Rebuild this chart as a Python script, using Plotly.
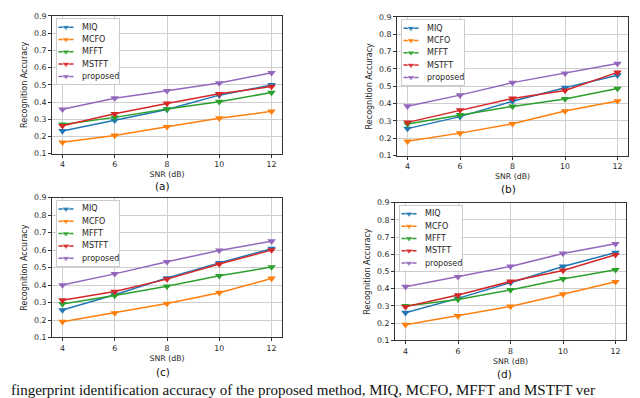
import plotly.graph_objects as go

W, H = 640, 398

snr = [4, 6, 8, 10, 12]
methods = ["MIQ", "MCFO", "MFFT", "MSTFT", "proposed"]
yticks = [0.1, 0.2, 0.3, 0.4, 0.5, 0.6, 0.7, 0.8, 0.9]

# accuracy, one list per method
a_miq = [0.232, 0.294, 0.357, 0.440, 0.499]
a_mcfo = [0.166, 0.206, 0.256, 0.306, 0.346]
a_mfft = [0.270, 0.311, 0.359, 0.402, 0.455]
a_mstft = [0.262, 0.332, 0.392, 0.448, 0.490]
a_proposed = [0.358, 0.422, 0.465, 0.510, 0.570]

b_miq = [0.256, 0.325, 0.414, 0.492, 0.564]
b_mcfo = [0.183, 0.230, 0.284, 0.357, 0.415]
b_mfft = [0.282, 0.335, 0.384, 0.427, 0.487]
b_mstft = [0.292, 0.363, 0.430, 0.476, 0.580]
b_proposed = [0.385, 0.449, 0.521, 0.575, 0.631]

c_miq = [0.257, 0.345, 0.440, 0.527, 0.608]
c_mcfo = [0.190, 0.240, 0.294, 0.356, 0.438]
c_mfft = [0.292, 0.340, 0.393, 0.453, 0.503]
c_mstft = [0.313, 0.363, 0.434, 0.520, 0.600]
c_proposed = [0.400, 0.464, 0.533, 0.598, 0.651]

d_miq = [0.261, 0.344, 0.435, 0.529, 0.610]
d_mcfo = [0.191, 0.242, 0.297, 0.368, 0.440]
d_mfft = [0.300, 0.338, 0.393, 0.457, 0.510]
d_mstft = [0.295, 0.363, 0.442, 0.506, 0.597]
d_proposed = [0.412, 0.469, 0.529, 0.605, 0.661]

colors = {
    "MIQ": "#1f77b4",
    "MCFO": "#ff7f0e",
    "MFFT": "#2ca02c",
    "MSTFT": "#d62728",
    "proposed": "#9467bd",
}

caption = "fingerprint identification accuracy of the proposed method, MIQ, MCFO, MFFT and MSTFT ver"

# panel boxes in pixels: label, left, right, top, bottom, label x, label y
panels = [
    ("(a)", 44, 274, 4, 145, 154, 178, [a_miq, a_mcfo, a_mfft, a_mstft, a_proposed]),
    ("(b)", 389, 620, 5, 147, 500, 181, [b_miq, b_mcfo, b_mfft, b_mstft, b_proposed]),
    ("(c)", 44, 274, 190, 333, 155, 368, [c_miq, c_mcfo, c_mfft, c_mstft, c_proposed]),
    ("(d)", 387, 618, 195, 336, 496, 370, [d_miq, d_mcfo, d_mfft, d_mstft, d_proposed]),
]


def fx(p):
    return p / W


def fy(p):
    return 1 - p / H


tick_font = dict(family="DejaVu Sans", size=7.8, color="#1e1e1e")
legend_font = dict(family="DejaVu Sans", size=8, color="#1e1e1e")

fig = go.Figure()
annotations = []

for i, (label, l, r, t, b, lx, ly, series) in enumerate(panels):
    n = i + 1
    sfx = "" if n == 1 else str(n)
    for m, vals in zip(methods, series):
        fig.add_trace(
            go.Scatter(
                x=snr,
                y=vals,
                mode="lines+markers",
                name=m,
                line=dict(color=colors[m], width=1.5),
                marker=dict(symbol="triangle-down", size=7.5, color=colors[m]),
                xaxis="x" + sfx,
                yaxis="y" + sfx,
                showlegend=False,
            )
        )

    axis_common = dict(
        showline=True,
        mirror=True,
        linecolor="#333333",
        linewidth=1,
        ticks="outside",
        ticklen=3,
        tickwidth=1,
        tickcolor="#333333",
        showgrid=True,
        gridcolor="#cfcfcf",
        gridwidth=1.3,
        zeroline=False,
        tickfont=tick_font,
    )
    fig.update_layout(**{
        "xaxis" + sfx: dict(
            axis_common,
            domain=[fx(l), fx(r)],
            anchor="y" + sfx,
            range=[3.6, 12.4],
            tickvals=snr,
            title=dict(text="SNR (dB)", font=tick_font, standoff=3),
        ),
        "yaxis" + sfx: dict(
            axis_common,
            domain=[fy(b), fy(t)],
            anchor="x" + sfx,
            range=[0.1, 0.9],
            tickvals=yticks,
            tickformat=".1f",
            title=dict(text="Recognition Accuracy",
                       font=dict(family="DejaVu Sans", size=8, color="#1e1e1e"),
                       standoff=5),
        ),
    })

    # legend box as a small inset axes (px units inside the box)
    k = n + 4
    bl, bt, bw, bh = l + 4.5, t + 3.5, 62, 66
    fig.update_layout(**{
        f"xaxis{k}": dict(domain=[fx(bl), fx(bl + bw)], anchor=f"y{k}", range=[0, bw],
                          showline=True, mirror=True, linecolor="#cccccc", linewidth=1,
                          showgrid=False, zeroline=False, showticklabels=False, ticks=""),
        f"yaxis{k}": dict(domain=[fy(bt + bh), fy(bt)], anchor=f"x{k}", range=[bh, 0],
                          showline=True, mirror=True, linecolor="#cccccc", linewidth=1,
                          showgrid=False, zeroline=False, showticklabels=False, ticks=""),
    })
    for j, m in enumerate(methods):
        yy = 8 + 12.6 * j
        fig.add_trace(
            go.Scatter(
                x=[2, 9.5, 17],
                y=[yy, yy, yy],
                mode="lines+markers",
                line=dict(color=colors[m], width=1.5),
                marker=dict(symbol="triangle-down", size=[0, 7.5, 0], color=colors[m]),
                xaxis=f"x{k}",
                yaxis=f"y{k}",
                showlegend=False,
                hoverinfo="skip",
            )
        )
        annotations.append(dict(
            x=23, y=yy, xref=f"x{k}", yref=f"y{k}", text=m, showarrow=False,
            xanchor="left", yanchor="middle", font=legend_font,
        ))

    annotations.append(dict(
        x=fx(lx), y=fy(ly), xref="paper", yref="paper", text=label, showarrow=False,
        xanchor="center", yanchor="middle",
        font=dict(family="DejaVu Sans", size=10.5, color="#111111"),
    ))

# figure caption line under the panels
annotations.append(dict(
    x=fx(2), y=fy(396), xref="paper", yref="paper", text=caption, showarrow=False,
    xanchor="left", yanchor="bottom", borderpad=0,
    font=dict(family="Liberation Serif", size=15, color="#111111"),
))

fig.update_layout(
    width=W,
    height=H,
    margin=dict(l=0, r=0, t=0, b=0),
    paper_bgcolor="white",
    plot_bgcolor="white",
    annotations=annotations,
    showlegend=False,
)

fig.write_html("out.html")
